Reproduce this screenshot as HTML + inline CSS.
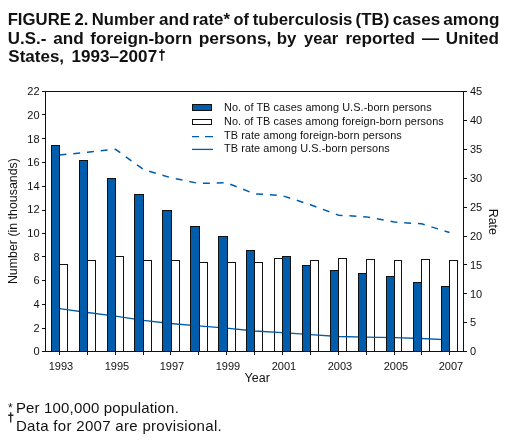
<!DOCTYPE html>
<html><head><meta charset="utf-8"><style>
html,body{margin:0;padding:0;background:#fff;width:510px;height:442px;overflow:hidden}
svg{position:absolute;left:0;top:0;will-change:transform}
text{font-family:"Liberation Sans",sans-serif;fill:#111}
.t{font-weight:bold;font-size:17.3px}
</style></head><body>
<svg width="510" height="442" viewBox="0 0 510 442">
<text class="t" transform="translate(7.64,24.7) scale(0.9685,1)">FIGURE</text>
<text class="t" transform="translate(74.62,24.7) scale(0.9603,1)">2.</text>
<text class="t" transform="translate(91.85,24.7) scale(0.9609,1)">Number</text>
<text class="t" transform="translate(159.11,24.7) scale(0.9828,1)">and</text>
<text class="t" transform="translate(192.53,24.7) scale(0.9759,1)">rate*</text>
<text class="t" transform="translate(233.44,24.7) scale(0.9490,1)">of</text>
<text class="t" transform="translate(252.71,24.7) scale(0.9706,1)">tuberculosis</text>
<text class="t" transform="translate(355.62,24.7) scale(0.9756,1)">(TB)</text>
<text class="t" transform="translate(392.81,24.7) scale(0.9872,1)">cases</text>
<text class="t" transform="translate(443.20,24.7) scale(0.9909,1)">among</text>
<text class="t" transform="translate(7.82,43.6) scale(0.9761,1)">U.S.-</text>
<text class="t" transform="translate(53.30,43.6) scale(0.9931,1)">and</text>
<text class="t" transform="translate(90.30,43.6) scale(0.9911,1)">foreign-born</text>
<text class="t" transform="translate(198.69,43.6) scale(1.0100,1)">persons,</text>
<text class="t" transform="translate(276.83,43.6) scale(0.9737,1)">by</text>
<text class="t" transform="translate(304.11,43.6) scale(0.9602,1)">year</text>
<text class="t" transform="translate(345.41,43.6) scale(0.9912,1)">reported</text>
<text class="t" transform="translate(422.00,43.6) scale(0.9884,1)">—</text>
<text class="t" transform="translate(445.81,43.6) scale(0.9903,1)">United</text>
<text class="t" transform="translate(8.31,62.3) scale(0.9836,1)">States,</text>
<text class="t" transform="translate(71.61,62.3) scale(0.9882,1)">1993–2007</text>
<path d="M159.3,51.1 h5.5 v1.9 h-5.5 z M161.05,49.2 h1.5 v11.5 h-1.5 z" fill="#1a1a1a"/>
<rect x="59.5" y="264.5" width="8" height="87" fill="#fff" stroke="#111" stroke-width="1"/>
<rect x="87.5" y="260.5" width="8" height="91" fill="#fff" stroke="#111" stroke-width="1"/>
<rect x="115.5" y="256.5" width="8" height="95" fill="#fff" stroke="#111" stroke-width="1"/>
<rect x="143.5" y="260.5" width="8" height="91" fill="#fff" stroke="#111" stroke-width="1"/>
<rect x="171.5" y="260.5" width="8" height="91" fill="#fff" stroke="#111" stroke-width="1"/>
<rect x="199.5" y="262.5" width="8" height="89" fill="#fff" stroke="#111" stroke-width="1"/>
<rect x="227.5" y="262.5" width="8" height="89" fill="#fff" stroke="#111" stroke-width="1"/>
<rect x="254.5" y="262.5" width="8" height="89" fill="#fff" stroke="#111" stroke-width="1"/>
<rect x="274.5" y="258.5" width="8" height="93" fill="#fff" stroke="#111" stroke-width="1"/>
<rect x="310.5" y="260.5" width="8" height="91" fill="#fff" stroke="#111" stroke-width="1"/>
<rect x="338.5" y="258.5" width="8" height="93" fill="#fff" stroke="#111" stroke-width="1"/>
<rect x="366.5" y="259.5" width="8" height="92" fill="#fff" stroke="#111" stroke-width="1"/>
<rect x="394.5" y="260.5" width="7" height="91" fill="#fff" stroke="#111" stroke-width="1"/>
<rect x="421.5" y="259.5" width="8" height="92" fill="#fff" stroke="#111" stroke-width="1"/>
<rect x="449.5" y="260.5" width="8" height="91" fill="#fff" stroke="#111" stroke-width="1"/>
<polyline points="59.50,155.06 87.50,152.17 115.50,149.28 143.50,169.50 170.50,177.59 198.50,183.37 226.50,182.79 254.50,193.77 282.50,195.73 310.50,204.74 338.50,215.14 366.50,216.88 394.50,222.08 421.50,223.81 449.50,232.48" fill="none" stroke="#005dab" stroke-width="1.5" stroke-dasharray="6.9,6.92"/>
<polyline points="59.50,308.63 87.50,312.50 115.50,316.02 143.50,320.30 170.50,323.48 198.50,325.79 226.50,328.22 254.50,330.99 282.50,332.61 310.50,334.63 338.50,336.48 366.50,337.06 394.50,337.69 421.50,338.50 449.50,339.94" fill="none" stroke="#005dab" stroke-width="1.3"/>
<rect x="51.5" y="145.5" width="8" height="206" fill="#005dab" stroke="#111" stroke-width="1"/>
<rect x="79.5" y="160.5" width="8" height="191" fill="#005dab" stroke="#111" stroke-width="1"/>
<rect x="107.5" y="178.5" width="8" height="173" fill="#005dab" stroke="#111" stroke-width="1"/>
<rect x="134.5" y="194.5" width="9" height="157" fill="#005dab" stroke="#111" stroke-width="1"/>
<rect x="162.5" y="210.5" width="9" height="141" fill="#005dab" stroke="#111" stroke-width="1"/>
<rect x="190.5" y="226.5" width="9" height="125" fill="#005dab" stroke="#111" stroke-width="1"/>
<rect x="218.5" y="236.5" width="9" height="115" fill="#005dab" stroke="#111" stroke-width="1"/>
<rect x="246.5" y="250.5" width="8" height="101" fill="#005dab" stroke="#111" stroke-width="1"/>
<rect x="282.5" y="256.5" width="8" height="95" fill="#005dab" stroke="#111" stroke-width="1"/>
<rect x="302.5" y="265.5" width="8" height="86" fill="#005dab" stroke="#111" stroke-width="1"/>
<rect x="330.5" y="270.5" width="8" height="81" fill="#005dab" stroke="#111" stroke-width="1"/>
<rect x="358.5" y="273.5" width="8" height="78" fill="#005dab" stroke="#111" stroke-width="1"/>
<rect x="386.5" y="276.5" width="8" height="75" fill="#005dab" stroke="#111" stroke-width="1"/>
<rect x="413.5" y="282.5" width="8" height="69" fill="#005dab" stroke="#111" stroke-width="1"/>
<rect x="441.5" y="286.5" width="8" height="65" fill="#005dab" stroke="#111" stroke-width="1"/>
<path d="M42,91.5 H467 M42,351.5 H467 M45.5,91 V352 M463.5,91 V352 M42,351.5 H45 M42,328.5 H45 M42,304.5 H45 M42,280.5 H45 M42,256.5 H45 M42,233.5 H45 M42,210.5 H45 M42,186.5 H45 M42,162.5 H45 M42,138.5 H45 M42,114.5 H45 M42,91.5 H45 M464,351.5 H467 M464,322.5 H467 M464,293.5 H467 M464,264.5 H467 M464,236.5 H467 M464,207.5 H467 M464,178.5 H467 M464,149.5 H467 M464,120.5 H467 M464,91.5 H467 M59.5,352 V355 M87.5,352 V355 M115.5,352 V355 M143.5,352 V355 M170.5,352 V355 M198.5,352 V355 M226.5,352 V355 M254.5,352 V355 M282.5,352 V355 M310.5,352 V355 M338.5,352 V355 M366.5,352 V355 M394.5,352 V355 M421.5,352 V355 M449.5,352 V355" stroke="#111" stroke-width="1" fill="none" shape-rendering="crispEdges"/>
<text x="39.6" y="355.30" text-anchor="end" font-size="11">0</text>
<text x="39.6" y="331.66" text-anchor="end" font-size="11">2</text>
<text x="39.6" y="308.03" text-anchor="end" font-size="11">4</text>
<text x="39.6" y="284.39" text-anchor="end" font-size="11">6</text>
<text x="39.6" y="260.75" text-anchor="end" font-size="11">8</text>
<text x="39.6" y="237.12" text-anchor="end" font-size="11">10</text>
<text x="39.6" y="213.48" text-anchor="end" font-size="11">12</text>
<text x="39.6" y="189.85" text-anchor="end" font-size="11">14</text>
<text x="39.6" y="166.21" text-anchor="end" font-size="11">16</text>
<text x="39.6" y="142.57" text-anchor="end" font-size="11">18</text>
<text x="39.6" y="118.94" text-anchor="end" font-size="11">20</text>
<text x="39.6" y="95.30" text-anchor="end" font-size="11">22</text>
<text x="470" y="355.30" font-size="11">0</text>
<text x="470" y="326.41" font-size="11">5</text>
<text x="470" y="297.52" font-size="11">10</text>
<text x="470" y="268.63" font-size="11">15</text>
<text x="470" y="239.74" font-size="11">20</text>
<text x="470" y="210.86" font-size="11">25</text>
<text x="470" y="181.97" font-size="11">30</text>
<text x="470" y="153.08" font-size="11">35</text>
<text x="470" y="124.19" font-size="11">40</text>
<text x="470" y="95.30" font-size="11">45</text>
<text x="61.00" y="370.3" text-anchor="middle" font-size="11">1993</text>
<text x="117.00" y="370.3" text-anchor="middle" font-size="11">1995</text>
<text x="172.00" y="370.3" text-anchor="middle" font-size="11">1997</text>
<text x="228.00" y="370.3" text-anchor="middle" font-size="11">1999</text>
<text x="284.00" y="370.3" text-anchor="middle" font-size="11">2001</text>
<text x="340.00" y="370.3" text-anchor="middle" font-size="11">2003</text>
<text x="396.00" y="370.3" text-anchor="middle" font-size="11">2005</text>
<text x="451.00" y="370.3" text-anchor="middle" font-size="11">2007</text>
<text x="257.2" y="382" text-anchor="middle" font-size="12.5">Year</text>
<text transform="translate(17.3,221.1) rotate(-90)" text-anchor="middle" font-size="12.4">Number (in thousands)</text>
<text transform="translate(489.3,221.8) rotate(90)" text-anchor="middle" font-size="12.4">Rate</text>
<rect x="192.5" y="104.5" width="19" height="6" fill="#005dab" stroke="#111" stroke-width="1"/>
<rect x="192.5" y="119.5" width="19" height="5" fill="#fff" stroke="#111" stroke-width="1"/>
<path d="M192,136.6 H199 M205,136.6 H213" stroke="#005dab" stroke-width="1.3"/>
<path d="M192,149.4 H213" stroke="#005dab" stroke-width="1.3"/>
<text x="224.0" y="110.80" font-size="10.9" textLength="207.7" lengthAdjust="spacing">No. of TB cases among U.S.-born persons</text>
<text x="224.0" y="124.65" font-size="10.9" textLength="219.8" lengthAdjust="spacing">No. of TB cases among foreign-born persons</text>
<text x="224.0" y="138.50" font-size="10.9" textLength="177.8" lengthAdjust="spacing">TB rate among foreign-born persons</text>
<text x="224.0" y="152.35" font-size="10.9" textLength="165.8" lengthAdjust="spacing">TB rate among U.S.-born persons</text>
<text x="15.9" y="413" font-size="15" textLength="162.9" lengthAdjust="spacing">Per 100,000 population.</text>
<text x="15.9" y="431" font-size="15" textLength="205.8" lengthAdjust="spacing">Data for 2007 are provisional.</text>
<text x="8.0" y="411.5" font-size="12">*</text>
<path d="M8.2,414.6 h5.2 v1.3 h-5.2 z M10.05,412.3 h1.3 v10.1 h-1.3 z" fill="#222"/>
</svg>
</body></html>
